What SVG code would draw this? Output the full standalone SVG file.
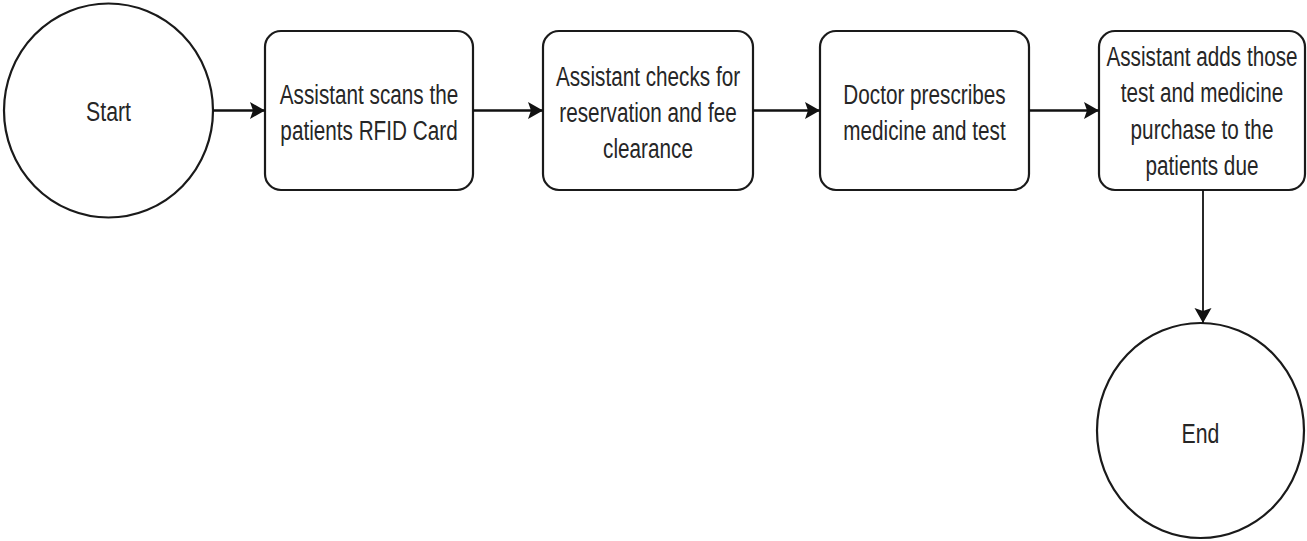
<svg xmlns="http://www.w3.org/2000/svg" width="1307" height="541" viewBox="0 0 1307 541">
  <style>
    .shape { fill: #ffffff; stroke: #1a1a1a; stroke-width: 2.2; }
    .edge { fill: none; stroke: #111111; stroke-width: 2.6; }
    .label { font-family: "Liberation Sans", Arial, sans-serif; font-size: 28px; fill: #262626; text-anchor: middle; }
  </style>
  <defs>
    <marker id="arrow" markerUnits="userSpaceOnUse" markerWidth="18" markerHeight="20" refX="16" refY="10" orient="auto">
      <path d="M16,10 L1,1.5 L4,10 L1,18.5 Z" fill="#111111"/>
    </marker>
  </defs>
  <rect width="1307" height="541" fill="#ffffff"/>

  <!-- flow nodes -->
  <g id="start">
    <ellipse class="shape" cx="108.5" cy="110.5" rx="104.5" ry="107"/>
    <g transform="translate(108.5 0) scale(0.76 1)">
      <text class="label" x="0" y="121">Start</text>
    </g>
  </g>

  <g id="scan-card">
    <rect class="shape" x="265" y="31" width="208" height="159" rx="16"/>
    <g transform="translate(369 0) scale(0.74 1)">
      <text class="label" x="0" y="104">Assistant scans the</text>
      <text class="label" x="0" y="140">patients RFID Card</text>
    </g>
  </g>

  <g id="check-reservation">
    <rect class="shape" x="543" y="31" width="210" height="159" rx="16"/>
    <g transform="translate(648 0) scale(0.74 1)">
      <text class="label" x="0" y="86">Assistant checks for</text>
      <text class="label" x="0" y="122">reservation and fee</text>
      <text class="label" x="0" y="158">clearance</text>
    </g>
  </g>

  <g id="prescribe">
    <rect class="shape" x="820" y="31" width="209" height="159" rx="16"/>
    <g transform="translate(924.5 0) scale(0.74 1)">
      <text class="label" x="0" y="104">Doctor prescribes</text>
      <text class="label" x="0" y="140">medicine and test</text>
    </g>
  </g>

  <g id="add-dues">
    <rect class="shape" x="1099" y="31" width="206" height="159" rx="16"/>
    <g transform="translate(1202 0) scale(0.74 1)">
      <text class="label" x="0" y="66">Assistant adds those</text>
      <text class="label" x="0" y="102">test and medicine</text>
      <text class="label" x="0" y="139">purchase to the</text>
      <text class="label" x="0" y="175">patients due</text>
    </g>
  </g>

  <g id="end">
    <ellipse class="shape" cx="1200.5" cy="430.5" rx="103.5" ry="107.5"/>
    <g transform="translate(1200.5 0) scale(0.76 1)">
      <text class="label" x="0" y="443">End</text>
    </g>
  </g>

  <!-- connectors -->
  <g id="connectors">
    <path class="edge" d="M213,110.5 L265,110.5" marker-end="url(#arrow)"/>
    <path class="edge" d="M473,110.5 L543,110.5" marker-end="url(#arrow)"/>
    <path class="edge" d="M753,110.5 L820,110.5" marker-end="url(#arrow)"/>
    <path class="edge" d="M1029,110.5 L1099,110.5" marker-end="url(#arrow)"/>
    <path class="edge" style="stroke-width:1.8" d="M1203,190 L1203,323" marker-end="url(#arrow)"/>
  </g>
</svg>
